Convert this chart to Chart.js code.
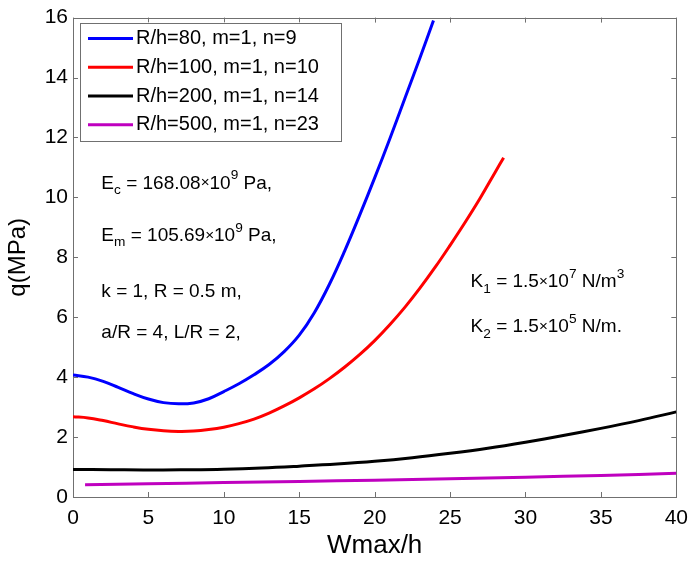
<!DOCTYPE html>
<html>
<head>
<meta charset="utf-8">
<script src="https://cdn.jsdelivr.net/npm/chart.js@4.4.0/dist/chart.umd.min.js"></script>
<style>
  html, body { margin: 0; padding: 0; background: #fff; }
  #wrap { width: 697px; height: 561px; }
</style>
</head>
<body>
<div id="wrap"><canvas id="chart" width="697" height="561"></canvas></div>
<script>
// values
const xTicks = [0, 5, 10, 15, 20, 25, 30, 35, 40];
const yTicks = [0, 2, 4, 6, 8, 10, 12, 14, 16];

const seriesLabels = ['R/h=80, m=1, n=9', 'R/h=100, m=1, n=10', 'R/h=200, m=1, n=14', 'R/h=500, m=1, n=23'];
const seriesColors = ['#0000ff', '#ff0000', '#000000', '#bf00bf'];

const xRh80 = [0, 1, 2, 3, 4, 5, 6, 7, 8, 9, 10, 11, 12, 13, 14, 15, 16, 17, 18, 19, 20, 21, 22, 23, 23.9];
const qRh80 = [4.07, 4.0, 3.86, 3.66, 3.45, 3.27, 3.15, 3.11, 3.14, 3.28, 3.52, 3.78, 4.08, 4.42, 4.85, 5.4, 6.15, 7.1, 8.2, 9.4, 10.65, 11.95, 13.3, 14.65, 15.9];

const xRh100 = [0, 1, 2, 3, 4, 5, 6, 7, 8, 9, 10, 11, 12, 13, 14, 15, 16, 17, 18, 19, 20, 21, 22, 23, 24, 25, 26, 27, 28, 28.55];
const qRh100 = [2.68, 2.64, 2.55, 2.44, 2.34, 2.26, 2.21, 2.19, 2.2, 2.25, 2.33, 2.45, 2.6, 2.8, 3.04, 3.31, 3.61, 3.95, 4.33, 4.75, 5.22, 5.75, 6.33, 6.97, 7.66, 8.4, 9.17, 9.98, 10.85, 11.32];

const xRh200 = [0, 2.5, 5, 7.5, 10, 12.5, 15, 17.5, 20, 22.5, 25, 27.5, 30, 32.5, 35, 37.5, 40];
const qRh200 = [0.92, 0.91, 0.9, 0.91, 0.93, 0.97, 1.03, 1.1, 1.19, 1.31, 1.46, 1.63, 1.83, 2.05, 2.29, 2.55, 2.84];

const xRh500 = [0.8, 5, 10, 15, 20, 25, 30, 35, 40];
const qRh500 = [0.41, 0.44, 0.48, 0.52, 0.56, 0.61, 0.66, 0.72, 0.79];

// text notes, placed in data coordinates; parts: [text, kind] kind = n / sub / sup / x
const leftNotes = [
  {x: 1.88, y: 10.47, parts: [['E', 'n'], ['c', 'sub'], [' = 168.08', 'n'], ['\u00d7', 'x'], ['10', 'n'], ['9', 'sup'], [' Pa,', 'n']]},
  {x: 1.88, y: 8.73, parts: [['E', 'n'], ['m', 'sub'], [' = 105.69', 'n'], ['\u00d7', 'x'], ['10', 'n'], ['9', 'sup'], [' Pa,', 'n']]},
  {x: 1.88, y: 6.84, parts: [['k = 1, R = 0.5 m,', 'n']]},
  {x: 1.88, y: 5.47, parts: [['a/R = 4, L/R = 2,', 'n']]}
];
const rightNotes = [
  {x: 26.36, y: 7.18, parts: [['K', 'n'], ['1', 'sub'], [' = 1.5', 'n'], ['\u00d7', 'x'], ['10', 'n'], ['7', 'sup'], [' N/m', 'n'], ['3', 'sup']]},
  {x: 26.36, y: 5.68, parts: [['K', 'n'], ['2', 'sub'], [' = 1.5', 'n'], ['\u00d7', 'x'], ['10', 'n'], ['5', 'sup'], [' N/m.', 'n']]}
];

const FONT = '"Liberation Sans", Arial, sans-serif';
const AXIS_GREY = '#707070';

function pairs(xs, ys) {
  return xs.map((x, i) => ({x: x, y: ys[i]}));
}

// box round the plot with inward ticks on all four sides
const boxPlugin = {
  id: 'boxPlugin',
  beforeDatasetsDraw(chart) {
    const ctx = chart.ctx;
    const a = chart.chartArea;
    const xs = chart.scales.x;
    const ys = chart.scales.y;
    const len = 5;
    ctx.save();
    ctx.strokeStyle = AXIS_GREY;
    ctx.lineWidth = 1;
    ctx.beginPath();
    xTicks.forEach(v => {
      const px = Math.round(xs.getPixelForValue(v)) + 0.5;
      ctx.moveTo(px, a.bottom); ctx.lineTo(px, a.bottom - len);
      ctx.moveTo(px, a.top); ctx.lineTo(px, a.top + len);
    });
    yTicks.forEach(v => {
      const py = Math.round(ys.getPixelForValue(v)) + 0.5;
      ctx.moveTo(a.left, py); ctx.lineTo(a.left + len, py);
      ctx.moveTo(a.right, py); ctx.lineTo(a.right - len, py);
    });
    ctx.stroke();
    ctx.strokeRect(Math.round(a.left) + 0.5, Math.round(a.top) + 0.5, Math.round(a.right - a.left), Math.round(a.bottom - a.top));
    ctx.restore();
  }
};

function drawRich(ctx, x, y, parts, size) {
  let cx = x;
  parts.forEach(p => {
    const txt = p[0], kind = p[1];
    let s = size, dy = 0;
    if (kind === 'sub') { s = size * 0.72; dy = size * 0.38; }
    if (kind === 'sup') { s = size * 0.72; dy = -size * 0.4; }
    if (kind === 'x') { s = size * 0.8; dy = 0; }
    ctx.font = s + 'px ' + FONT;
    ctx.fillText(txt, cx, y + dy);
    cx += ctx.measureText(txt).width;
  });
}

const notesPlugin = {
  id: 'notesPlugin',
  afterDatasetsDraw(chart) {
    const ctx = chart.ctx;
    const xs = chart.scales.x;
    const ys = chart.scales.y;
    const a = chart.chartArea;
    ctx.save();
    ctx.fillStyle = '#000';
    ctx.textBaseline = 'middle';
    ctx.textAlign = 'left';
    leftNotes.concat(rightNotes).forEach(n => {
      drawRich(ctx, xs.getPixelForValue(n.x), ys.getPixelForValue(n.y), n.parts, 19);
    });

    // legend in the top left corner of the plot
    const bx = a.left + 7, by = a.top + 5, bw = 261, bh = 118;
    ctx.fillStyle = '#fff';
    ctx.fillRect(bx, by, bw, bh);
    ctx.strokeStyle = AXIS_GREY;
    ctx.lineWidth = 1;
    ctx.strokeRect(Math.round(bx) + 0.5, Math.round(by) + 0.5, bw, bh);
    ctx.font = '20px ' + FONT;
    chart.data.datasets.forEach((ds, i) => {
      const ly = by + 16 + i * 28.7;
      ctx.strokeStyle = ds.borderColor;
      ctx.lineWidth = 3;
      ctx.beginPath();
      ctx.moveTo(bx + 8, ly);
      ctx.lineTo(bx + 53, ly);
      ctx.stroke();
      ctx.fillStyle = '#000';
      ctx.fillText(ds.label, bx + 56, ly);
    });
    ctx.restore();
  }
};

const datasets = [
  pairs(xRh80, qRh80),
  pairs(xRh100, qRh100),
  pairs(xRh200, qRh200),
  pairs(xRh500, qRh500)
].map((pts, i) => ({
  label: seriesLabels[i],
  data: pts,
  borderColor: seriesColors[i],
  backgroundColor: seriesColors[i],
  borderWidth: 3,
  pointRadius: 0,
  fill: false,
  tension: 0.4
}));

new Chart(document.getElementById('chart'), {
  type: 'line',
  data: {datasets: datasets},
  options: {
    responsive: false,
    animation: false,
    events: [],
    layout: {padding: {left: 0, right: 14, top: 17, bottom: 0}},
    plugins: {
      legend: {display: false},
      tooltip: {enabled: false}
    },
    scales: {
      x: {
        type: 'linear',
        min: 0,
        max: 40,
        afterFit(scale) { scale.height = 64; },
        afterBuildTicks(scale) { scale.ticks = xTicks.map(v => ({value: v})); },
        grid: {display: false, drawTicks: false},
        border: {display: false},
        ticks: {color: '#000', padding: 9, maxRotation: 0, font: {family: FONT, size: 21}},
        title: {display: true, text: 'Wmax/h', color: '#000', padding: {top: 0, bottom: 0}, font: {family: FONT, size: 26}}
      },
      y: {
        type: 'linear',
        min: 0,
        max: 16,
        afterFit(scale) { scale.width = 73; },
        afterBuildTicks(scale) { scale.ticks = yTicks.map(v => ({value: v})); },
        grid: {display: false, drawTicks: false},
        border: {display: false},
        ticks: {color: '#000', padding: 5, font: {family: FONT, size: 21}},
        title: {display: true, text: 'q(MPa)', color: '#000', padding: {top: 4, bottom: 0}, font: {family: FONT, size: 24}}
      }
    }
  },
  plugins: [boxPlugin, notesPlugin]
});
</script>
</body>
</html>
